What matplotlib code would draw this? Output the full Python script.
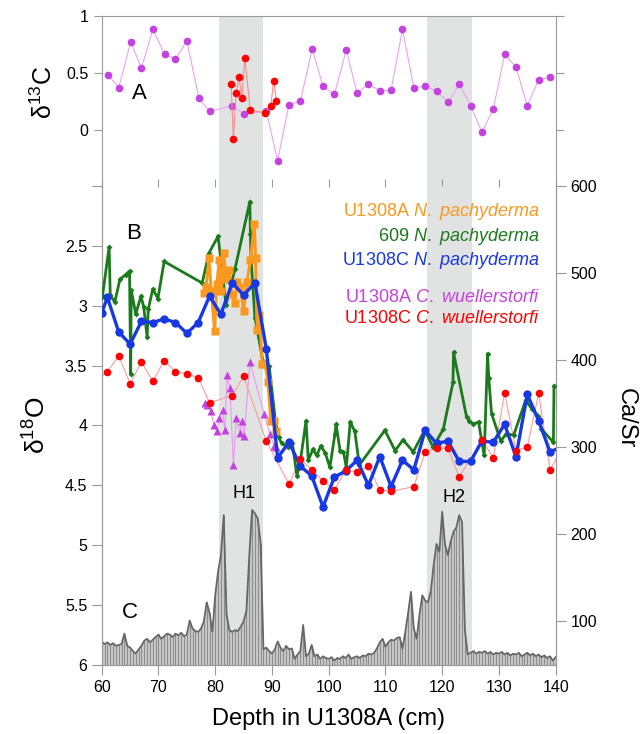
import matplotlib
matplotlib.use('Agg')
import matplotlib.pyplot as plt

plt.rcParams['font.family'] = ['Liberation Sans', 'DejaVu Sans']
plt.rcParams['mathtext.fontset'] = 'custom'
plt.rcParams['mathtext.rm'] = 'Liberation Sans'
plt.rcParams['mathtext.it'] = 'Liberation Sans:italic'
plt.rcParams['mathtext.default'] = 'regular'

# --- panel A: benthic d13C ---
c13_a_depth = [61.1, 63.0, 65.1, 67.0, 69.0, 71.1, 73.0, 75.0, 77.1, 79.0, 83.0, 85.1, 89.0,
               91.0, 93.0, 95.0, 97.1, 99.0, 101.0, 103.1, 105.0, 107.0, 109.1, 111.0, 113.0,
               115.0, 117.0, 119.0, 121.1, 123.0, 125.0, 127.0, 129.0, 131.0, 133.0, 135.0,
               137.0, 139.0]
c13_a = [0.48, 0.37, 0.77, 0.54, 0.88, 0.66, 0.62, 0.78, 0.28, 0.16, 0.21, 0.14, 0.16,
         -0.27, 0.22, 0.25, 0.71, 0.38, 0.31, 0.70, 0.32, 0.40, 0.34, 0.35, 0.88,
         0.37, 0.38, 0.34, 0.24, 0.40, 0.21, -0.02, 0.18, 0.66, 0.55, 0.21,
         0.44, 0.46]

c13_c_depth = [82.8, 83.2, 83.7, 84.2, 84.7, 85.2, 86.2, 88.8, 89.8, 90.3, 90.8]
c13_c = [0.40, -0.08, 0.32, 0.46, 0.28, 0.63, 0.17, 0.15, 0.21, 0.43, 0.25]

# --- panel B: d18O ---
u1308a_np_depth = [78.0, 78.4, 78.9, 79.3, 79.9, 80.3, 80.7, 81.1, 81.5, 81.9, 82.4, 82.9,
                   83.4, 83.9, 84.4, 85.0, 85.6, 86.2, 86.9, 87.1, 87.4, 87.8, 88.3, 88.8,
                   89.3, 89.8, 90.3, 90.8]
u1308a_np = [2.89, 2.84, 2.60, 2.88, 3.21, 2.82, 2.62, 2.88, 2.56, 2.78, 2.70, 2.90,
             2.98, 2.80, 2.84, 3.04, 2.80, 2.62, 2.32, 2.60, 3.20, 3.08, 3.49, 3.49,
             3.64, 3.96, 3.96, 4.05]

site609_depth = [60.1, 61.3, 61.5, 62.3, 63.2, 64.2, 64.9, 65.1, 65.2, 66.0, 66.9, 67.4,
                 68.0, 68.2, 69.0, 69.9, 71.0, 77.7, 78.9, 80.5, 81.9, 83.5, 86.1, 86.2,
                 86.3, 87.0, 88.4, 89.5, 90.6, 91.2, 91.7, 92.9, 93.6, 94.4, 95.0, 96.0,
                 96.4, 97.2, 97.9, 98.6, 99.4, 100.2, 101.1, 101.3, 102.0, 102.6, 103.1,
                 103.8, 104.6, 105.4, 109.9, 111.7, 113.1, 114.9, 116.9, 118.4, 120.2,
                 121.9, 122.0, 124.3, 124.8, 125.5, 126.4, 127.4, 128.0, 128.2, 128.7,
                 130.3, 131.3, 132.6, 134.7, 135.8, 136.9, 137.5, 139.6, 139.7]
site609 = [2.93, 2.51, 2.91, 2.97, 2.78, 2.74, 2.71, 3.57, 2.87, 3.07, 2.92, 3.01,
           3.26, 3.03, 2.86, 2.94, 2.63, 2.81, 2.56, 2.42, 2.99, 2.69, 2.13, 2.40,
           2.60, 3.10, 3.46, 3.50, 3.96, 4.10, 4.15, 4.18, 4.15, 4.42, 4.30, 3.96,
           4.29, 4.20, 4.25, 4.17, 4.23, 4.35, 4.07, 3.99, 4.21, 4.22, 4.35,
           3.97, 4.05, 4.33, 4.04, 4.21, 4.12, 4.22, 4.04, 4.18, 4.03,
           3.64, 3.39, 3.93, 3.96, 3.99, 3.97, 4.25, 3.40, 3.60, 3.90,
           4.13, 4.07, 4.08, 3.79, 3.86, 3.92, 4.03, 4.14, 3.67]

u1308c_np_depth = [60, 61, 63, 65, 67, 69, 71, 73, 75, 77, 79, 81, 83, 85, 87, 89, 91, 93,
                   95, 97, 99, 101, 103, 105, 107, 109, 111, 113, 115, 117, 119, 121, 123,
                   125, 127, 129, 131, 133, 135, 137, 139, 141]
u1308c_np = [3.06, 2.93, 3.22, 3.32, 3.13, 3.14, 3.11, 3.14, 3.23, 3.14, 2.92, 3.07, 2.81,
             2.91, 2.81, 3.36, 4.27, 4.14, 4.34, 4.42, 4.68, 4.43, 4.38, 4.29, 4.50, 4.26,
             4.51, 4.29, 4.37, 4.04, 4.15, 4.13, 4.30, 4.30, 4.13, 4.14, 3.99, 4.26, 3.74,
             3.96, 4.22, 4.18]

u1308a_cw_depth = [78.2, 78.6, 79.2, 79.8, 80.3, 80.7, 81.3, 81.7, 82.1, 82.6, 83.2, 83.7,
                   84.3, 84.7, 85.1, 86.1, 88.6, 89.6, 90.4, 90.8]
u1308a_cw = [3.81, 3.83, 3.88, 4.00, 4.05, 3.94, 3.87, 4.04, 3.58, 3.69, 4.33, 3.94,
             4.06, 3.96, 4.09, 3.47, 3.90, 4.07, 4.17, 4.18]

u1308c_cw_depth = [59, 61, 63, 65, 67, 69, 71, 73, 75, 77, 79, 83, 85, 89, 93, 95, 97, 99,
                   101, 103, 105, 107, 109, 111, 115, 117, 119, 121, 123, 127, 129, 131,
                   133, 135, 137, 139, 141]
u1308c_cw = [3.63, 3.55, 3.42, 3.65, 3.47, 3.63, 3.46, 3.55, 3.57, 3.60, 3.81, 3.75, 3.59,
             4.13, 4.49, 4.28, 4.37, 4.46, 4.54, 4.37, 4.39, 4.34, 4.54, 4.55, 4.51, 4.22,
             4.19, 4.19, 4.43, 4.12, 4.27, 3.73, 4.21, 4.18, 3.73, 4.37, 4.20]

# --- panel C: XRF Ca/Sr, every 0.5 cm from 60 to 140 cm ---
casr_depth = [60 + 0.5 * i for i in range(161)]
casr = [77, 74, 76, 73, 75, 72, 73, 74, 86, 72, 70, 66, 63, 68, 72, 78, 80, 76, 79, 82,
        85, 80, 83, 86, 85, 82, 86, 84, 87, 83, 85, 101, 92, 89, 88, 92, 100, 122, 110, 88,
        130, 157, 176, 222, 107, 90, 88, 90, 89, 94, 100, 112, 175, 228, 224, 218, 190, 68, 70, 66,
        63, 68, 77, 70, 66, 72, 68, 69, 57, 62, 66, 96, 60, 63, 73, 60, 62, 57, 60, 58,
        57, 59, 55, 58, 57, 60, 58, 62, 57, 59, 60, 58, 61, 60, 63, 62, 64, 69, 76, 80,
        71, 76, 79, 78, 81, 82, 69, 88, 110, 134, 92, 80, 108, 130, 124, 122, 135, 165, 189, 180,
        226, 188, 176, 192, 203, 208, 222, 214, 90, 62, 64, 66, 63, 65, 64, 66, 63, 65, 62, 64,
        63, 65, 62, 64, 61, 63, 62, 64, 60, 62, 64, 61, 63, 60, 62, 59, 61, 58, 60, 55, 59]

heinrich = [(80.6, 88.4), (117.4, 125.2)]

band_col = '#e1e3e3'
spine_col = '#9a9a9a'

fig = plt.figure(figsize=(6.41, 7.34), dpi=100)
ax_top = fig.add_axes([0.1587, 0.7456, 0.7082, 0.2330])
ax = fig.add_axes([0.1587, 0.0940, 0.7082, 0.6526])
ax_ca = ax.twinx()
ax.set_zorder(ax_ca.get_zorder() + 1)
ax.patch.set_visible(False)

# top panel
for lo, hi in heinrich:
    ax_top.axvspan(lo, hi, color=band_col, lw=0, zorder=0)
ax_top.plot(c13_a_depth, c13_a, '-', color='#eaa2f6', lw=0.8, zorder=2)
ax_top.plot(c13_a_depth, c13_a, 'o', color='#c443e0', ms=5.5, mec='none', zorder=3)
ax_top.plot(c13_c_depth, c13_c, '-', color='#ff8a8a', lw=0.8, zorder=4)
ax_top.plot(c13_c_depth, c13_c, 'o', color='#ff0000', ms=5.5, mec='none', zorder=5)
ax_top.set_xlim(60, 140)
ax_top.set_ylim(-0.5, 1)
ax_top.set_yticks([0, 0.5, 1])
ax_top.set_yticklabels(['0', '0.5', '1'])
ax_top.set_xticks(range(60, 141, 10))
ax_top.tick_params(axis='y', direction='out', left=True, right=True, length=6,
                   color=spine_col, labelsize=11.5)
ax_top.tick_params(axis='x', direction='in', bottom=True, top=False, labelbottom=False,
                   length=6, color=spine_col)
ax_top.spines['bottom'].set_visible(False)
for s in ['top', 'left', 'right']:
    ax_top.spines[s].set_color(spine_col)
ax_top.set_ylabel('δ$^{13}$C', fontsize=18)
ax_top.yaxis.set_label_coords(-0.098, 0.55)
ax_top.text(66.7, 0.32, 'A', fontsize=16, ha='center', va='center')

# Ca/Sr record underneath
for lo, hi in heinrich:
    ax_ca.axvspan(lo, hi, color=band_col, lw=0, zorder=0)
ax_ca.fill_between(casr_depth, 50, casr, color='#c6c6c6', lw=0, zorder=1)
ax_ca.vlines(casr_depth, 50, casr, color='#8c8c8c', lw=0.7, zorder=2)
ax_ca.plot(casr_depth, casr, '-', color='#666666', lw=1.3, zorder=3)
ax_ca.set_ylim(50, 600)
ax_ca.set_yticks(range(100, 601, 100))
ax_ca.tick_params(axis='y', direction='out', length=7, color=spine_col, labelsize=11.5,
                  left=False)
for s in ax_ca.spines.values():
    s.set_color(spine_col)
ax_ca.spines['top'].set_visible(False)
fig.text(0.976, 0.43, 'Ca/Sr', rotation=270, fontsize=17, ha='center', va='center')

# d18O records
ax.plot(u1308c_cw_depth, u1308c_cw, '-', color='#ff9a9a', lw=0.8, zorder=2)
ax.plot(u1308a_cw_depth, u1308a_cw, '-', color='#e69af2', lw=0.8, zorder=2)
ax.plot(u1308a_cw_depth, u1308a_cw, '^', color='#c443e0', ms=5.5, mec='none', zorder=3)
ax.plot(site609_depth, site609, '-', color='#1b7a1b', lw=2.0, zorder=4)
ax.plot(site609_depth, site609, 'D', color='#1b7a1b', ms=3, mec='none', zorder=4)
ax.plot(u1308a_np_depth, u1308a_np, '-s', color='#f9991f', lw=2.2, ms=6, mec='none',
        zorder=5)
ax.plot(u1308c_np_depth, u1308c_np, '-o', color='#1838e2', lw=2.4, ms=6, mec='none',
        zorder=6)
ax.plot(u1308c_cw_depth, u1308c_cw, 'o', color='#ff0000', ms=5.5, mec='none', zorder=7)
ax.set_xlim(60, 140)
ax.set_ylim(6, 2)
ax.set_yticks([2, 2.5, 3, 3.5, 4, 4.5, 5, 5.5, 6])
ax.set_yticklabels(['', '2.5', '3', '3.5', '4', '4.5', '5', '5.5', '6'])
ax.set_xticks(range(60, 141, 10))
ax.tick_params(direction='out', length=7, color=spine_col, labelsize=11.5, right=False)
for s in ax.spines.values():
    s.set_color(spine_col)
ax.spines['top'].set_visible(False)
ax.set_ylabel('δ$^{18}$O', fontsize=19)
ax.yaxis.set_label_coords(-0.112, 0.5)
ax.set_xlabel('Depth in U1308A (cm)', fontsize=17, labelpad=10)

ax.text(65.6, 2.40, 'B', fontsize=16, ha='center', va='center')
ax.text(65.0, 5.56, 'C', fontsize=16, ha='center', va='center')
ax.text(85.0, 4.57, 'H1', fontsize=13, ha='center', va='center')
ax.text(122.0, 4.60, 'H2', fontsize=13, ha='center', va='center')

legend_rows = [
    ('U1308A $\\it{N.\\ pachyderma}$', '#f9991f', 2.21),
    ('609 $\\it{N.\\ pachyderma}$', '#1b7a1b', 2.42),
    ('U1308C $\\it{N.\\ pachyderma}$', '#1838e2', 2.62),
    ('U1308A $\\it{C.\\ wuellerstorfi}$', '#c443e0', 2.93),
    ('U1308C $\\it{C.\\ wuellerstorfi}$', '#ff0000', 3.11),
]
for txt, col, yy in legend_rows:
    ax.text(137.2, yy, txt, color=col, fontsize=13, ha='right', va='center')

fig.savefig('out.png', dpi=100)
